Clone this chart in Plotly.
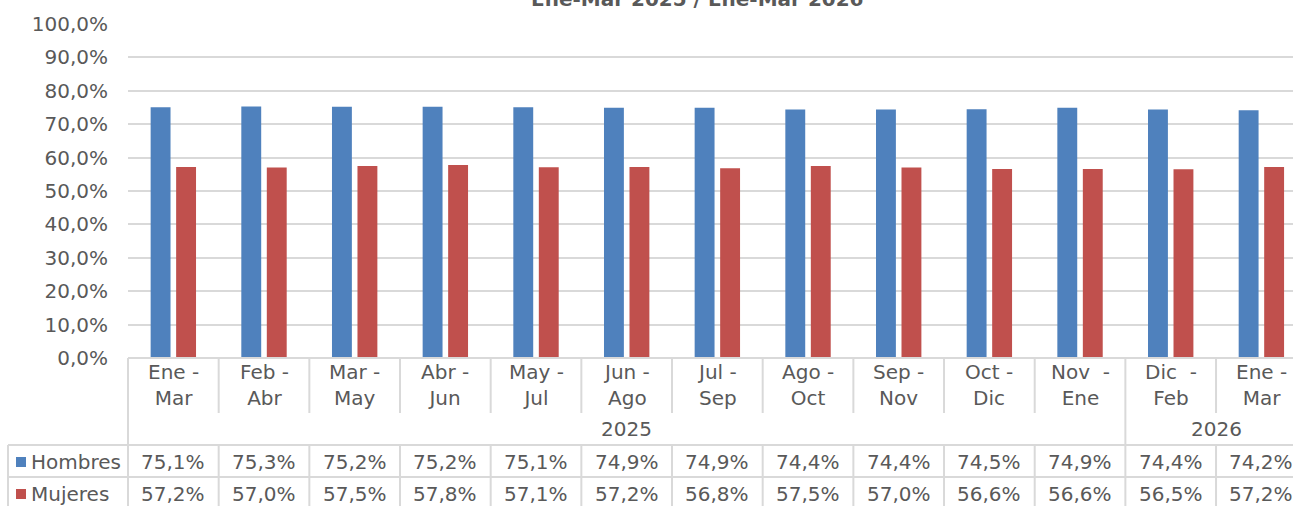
import plotly.graph_objects as go

# ---- data ----
periods = ["Ene -<br>Mar", "Feb -<br>Abr", "Mar -<br>May", "Abr -<br>Jun", "May -<br>Jul",
           "Jun -<br>Ago", "Jul -<br>Sep", "Ago -<br>Oct", "Sep -<br>Nov", "Oct -<br>Dic",
           "Nov\u00a0 -<br>Ene", "Dic\u00a0 -<br>Feb", "Ene -<br>Mar"]
years = ["2025"] * 11 + ["2026"] * 2
hombres = [75.1, 75.3, 75.2, 75.2, 75.1, 74.9, 74.9, 74.4, 74.4, 74.5, 74.9, 74.4, 74.2]
mujeres = [57.2, 57.0, 57.5, 57.8, 57.1, 57.2, 56.8, 57.5, 57.0, 56.6, 56.6, 56.5, 57.2]
series_names = ["Hombres", "Mujeres"]
title_text = "Ene-Mar 2025 / Ene-Mar 2026"

# ---- style ----
C_H = "#4F81BD"
C_M = "#C0504D"
TXT = "#595959"
GRID = "#D9D9D9"
FONT = "Verdana, DejaVu Sans, sans-serif"
W, H = 1293, 506
L, T, B = 128, 24, 148
plot_h = H - T - B
cell_px = 90.67
n = len(periods)
x_hi = -0.5 + (W - L) / cell_px

xs = list(range(n))


def py(pix):
    """pixel y -> paper y"""
    return (H - B - pix) / plot_h


def px(pix):
    return (pix - L) / (W - L)


fig = go.Figure()
fig.add_trace(go.Bar(x=xs, y=[v / 100 for v in hombres], name=series_names[0],
                     marker=dict(color=C_H, line=dict(width=0))))
fig.add_trace(go.Bar(x=xs, y=[v / 100 for v in mujeres], name=series_names[1],
                     marker=dict(color=C_M, line=dict(width=0))))

shapes = []
ann = []
line = dict(color=GRID, width=2)

# top border of table (axis baseline)
shapes.append(dict(type="line", xref="paper", yref="paper", x0=0, x1=1, y0=0, y1=0, line=line))
# left border through everything
shapes.append(dict(type="line", xref="paper", yref="paper", x0=0, x1=0, y0=0, y1=py(512), line=line))
# category boundaries
for i in range(1, n + 1):
    xb = i - 0.5
    if i < n and years[i] != years[i - 1]:
        shapes.append(dict(type="line", xref="x", yref="paper", x0=xb, x1=xb, y0=0, y1=py(512), line=line))
    else:
        shapes.append(dict(type="line", xref="x", yref="paper", x0=xb, x1=xb, y0=0, y1=py(413), line=line))
        shapes.append(dict(type="line", xref="x", yref="paper", x0=xb, x1=xb, y0=py(445), y1=py(512), line=line))
# horizontal table lines
for yp in (445, 477):
    shapes.append(dict(type="line", xref="paper", yref="paper", x0=px(8), x1=1, y0=py(yp), y1=py(yp), line=line))
# legend column left border
shapes.append(dict(type="line", xref="paper", yref="paper", x0=px(8), x1=px(8), y0=py(445), y1=py(512), line=line))

# category labels
for i, p in enumerate(periods):
    ann.append(dict(x=i, y=py(385), xref="x", yref="paper", text=p, showarrow=False,
                    xanchor="center", yanchor="middle", font=dict(size=20, color=TXT, family=FONT)))
# year labels
year_groups = []
for i, yv in enumerate(years):
    if not year_groups or year_groups[-1][0] != yv:
        year_groups.append([yv, i, i])
    else:
        year_groups[-1][2] = i
for yv, a, b in year_groups:
    xc = (a + b) / 2
    ann.append(dict(x=xc, y=py(429), xref="x", yref="paper", text=yv, showarrow=False,
                    xanchor="center", yanchor="middle", font=dict(size=20, color=TXT, family=FONT)))
# data table values
for vals, yp in ((hombres, 462), (mujeres, 494)):
    for i, v in enumerate(vals):
        ann.append(dict(x=i, y=py(yp), xref="x", yref="paper",
                        text=f"{v:.1f}%".replace(".", ","), showarrow=False,
                        xanchor="center", yanchor="middle", font=dict(size=20, color=TXT, family=FONT)))
# legend keys in table
for name, col, yp in ((series_names[0], C_H, 462), (series_names[1], C_M, 494)):
    shapes.append(dict(type="rect", xref="paper", yref="paper", x0=px(16), x1=px(26),
                       y0=py(yp - 5), y1=py(yp + 5), fillcolor=col, line=dict(width=0)))
    ann.append(dict(x=px(29), y=py(yp), xref="paper", yref="paper", text=name, showarrow=False,
                    xanchor="left", yanchor="middle", font=dict(size=20, color=TXT, family=FONT)))

# title (cut at top in the reference)
ann.append(dict(x=px(697), y=py(-1), xref="paper", yref="paper", text=f"<b>{title_text}</b>",
                showarrow=False, xanchor="center", yanchor="middle",
                font=dict(size=20, color=TXT, family=FONT)))

fig.update_layout(
    width=W, height=H,
    margin=dict(l=L, r=0, t=T, b=B, pad=0, autoexpand=False),
    paper_bgcolor="white", plot_bgcolor="white",
    barmode="group", bargap=0.4375, bargroupgap=0.22,
    showlegend=False,
    separators=",.",
    font=dict(family=FONT, color=TXT, size=20),
    shapes=shapes, annotations=ann,
    xaxis=dict(range=[-0.5, x_hi], showticklabels=False, showgrid=False, zeroline=False,
               showline=False, ticks="", automargin=False),
    yaxis=dict(range=[0, 1], dtick=0.1, tick0=0, tickformat=".1%", showgrid=True,
               gridcolor=GRID, gridwidth=2, zeroline=False, showline=False, automargin=False,
               ticks="", ticklabelstandoff=19, tickfont=dict(size=20, color=TXT, family=FONT)),
)

fig.write_html("out.html", config={"displayModeBar": False},
               post_script="document.body.style.margin='0';document.body.style.overflow='hidden';")
